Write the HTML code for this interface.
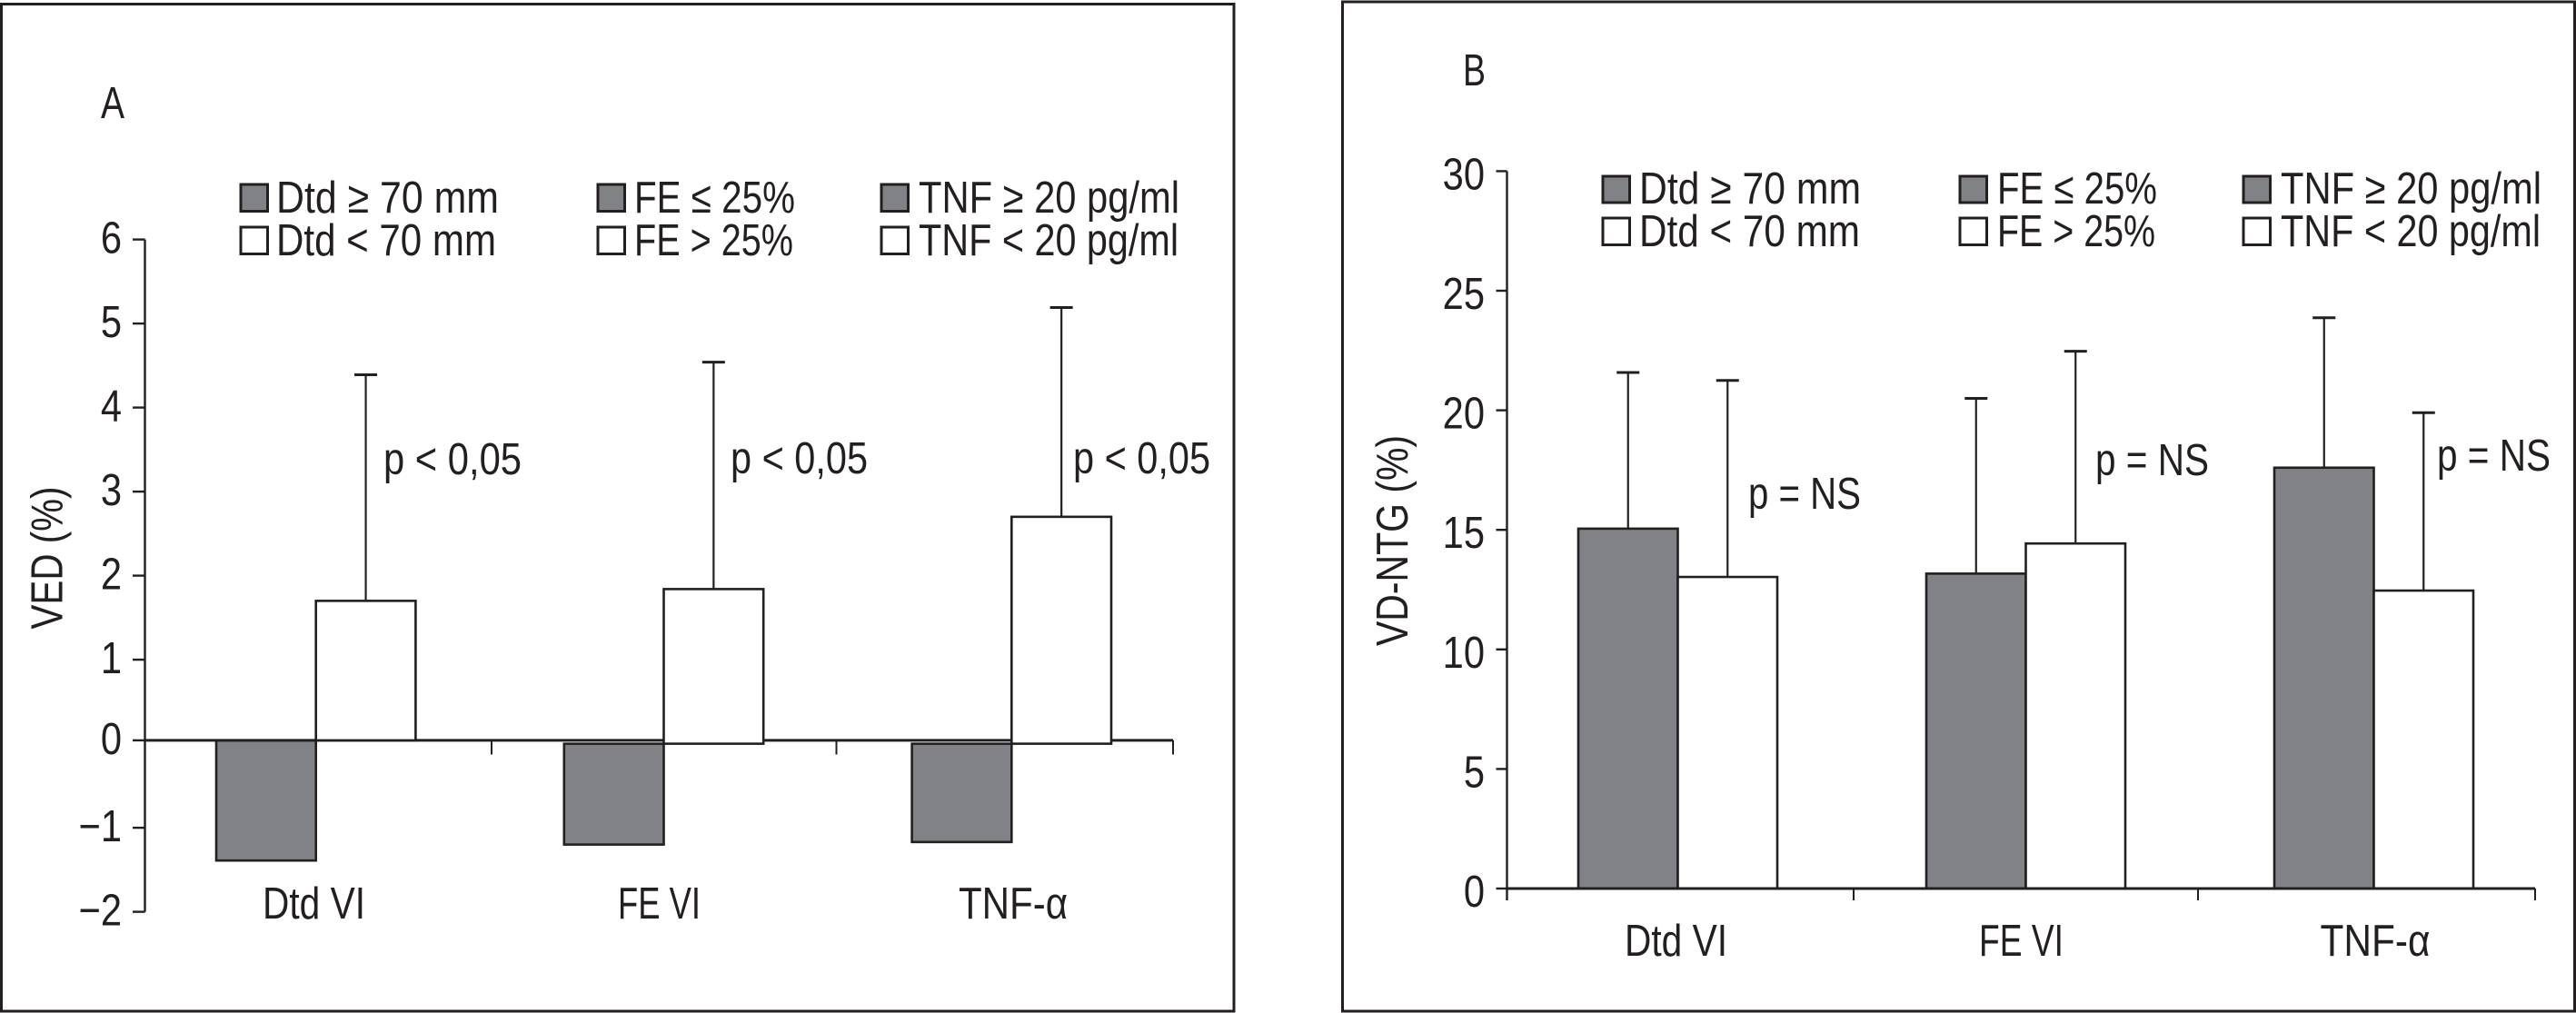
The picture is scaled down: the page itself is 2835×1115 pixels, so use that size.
<!DOCTYPE html>
<html lang="pt">
<head>
<meta charset="utf-8">
<title>VED and VD-NTG bar charts</title>
<style>
html,body{margin:0;padding:0;background:#fff;}
svg{display:block;}
text{font-family:"Liberation Sans",sans-serif;font-size:49px;fill:#231f20;}
.sw-high{fill:#808285;stroke:#231f20;stroke-width:3;}
.sw-low{fill:#fff;stroke:#231f20;stroke-width:3;}
</style>
</head>
<body>
<svg id="chart" xmlns="http://www.w3.org/2000/svg" width="2835" height="1115" viewBox="0 0 2835 1115">
  <rect x="0" y="0" width="2835" height="1115" fill="#fff"/>

  <!-- Panel A -->
  <g id="panel-a">
    <rect x="1.5" y="4.5" width="1356.5" height="1108.5" fill="#fff" stroke="#231f20" stroke-width="3"/>
    <text x="111" y="130" textLength="26" lengthAdjust="spacingAndGlyphs">A</text>
    <text transform="translate(68.5,692.5) rotate(-90)" textLength="157" lengthAdjust="spacingAndGlyphs">VED (%)</text>

    <g>
      <rect class="sw-high" x="265" y="203" width="29.5" height="29.5"/>
      <rect class="sw-low" x="265" y="250" width="29.5" height="29.5"/>
      <text x="304" y="234" textLength="245" lengthAdjust="spacingAndGlyphs">Dtd ≥ 70 mm</text>
      <text x="304" y="281" textLength="242" lengthAdjust="spacingAndGlyphs">Dtd &lt; 70 mm</text>
      <rect class="sw-high" x="658" y="203" width="29.5" height="29.5"/>
      <rect class="sw-low" x="658" y="250" width="29.5" height="29.5"/>
      <text x="698" y="234" textLength="177" lengthAdjust="spacingAndGlyphs">FE ≤ 25%</text>
      <text x="698" y="281" textLength="175" lengthAdjust="spacingAndGlyphs">FE &gt; 25%</text>
      <rect class="sw-high" x="970" y="203" width="29.5" height="29.5"/>
      <rect class="sw-low" x="970" y="250" width="29.5" height="29.5"/>
      <text x="1011" y="234" textLength="287" lengthAdjust="spacingAndGlyphs">TNF ≥ 20 pg/ml</text>
      <text x="1011" y="281" textLength="286" lengthAdjust="spacingAndGlyphs">TNF &lt; 20 pg/ml</text>
    </g>
    <g id="marks-a"></g>
    <text x="422" y="522" textLength="152" lengthAdjust="spacingAndGlyphs">p &lt; 0,05</text>
    <text x="804" y="521" textLength="151" lengthAdjust="spacingAndGlyphs">p &lt; 0,05</text>
    <text x="1181" y="521" textLength="151" lengthAdjust="spacingAndGlyphs">p &lt; 0,05</text>
  </g>

  <!-- Panel B -->
  <g id="panel-b">
    <rect x="1477.5" y="2" width="1356" height="1111" fill="#fff" stroke="#231f20" stroke-width="3"/>
    <text x="1610" y="94" textLength="25" lengthAdjust="spacingAndGlyphs">B</text>
    <text transform="translate(1549,711) rotate(-90)" textLength="232" lengthAdjust="spacingAndGlyphs">VD-NTG (%)</text>

    <g>
      <rect class="sw-high" x="1764" y="194" width="29.5" height="29"/>
      <rect class="sw-low" x="1764" y="240" width="29.5" height="29.5"/>
      <text x="1804" y="224" textLength="244" lengthAdjust="spacingAndGlyphs">Dtd ≥ 70 mm</text>
      <text x="1804" y="271" textLength="243" lengthAdjust="spacingAndGlyphs">Dtd &lt; 70 mm</text>
      <rect class="sw-high" x="2157" y="194" width="29.5" height="29"/>
      <rect class="sw-low" x="2157" y="240" width="29.5" height="29.5"/>
      <text x="2198" y="224" textLength="176" lengthAdjust="spacingAndGlyphs">FE ≤ 25%</text>
      <text x="2198" y="271" textLength="174" lengthAdjust="spacingAndGlyphs">FE &gt; 25%</text>
      <rect class="sw-high" x="2469" y="194" width="29.5" height="29"/>
      <rect class="sw-low" x="2469" y="240" width="29.5" height="29.5"/>
      <text x="2510" y="224" textLength="287" lengthAdjust="spacingAndGlyphs">TNF ≥ 20 pg/ml</text>
      <text x="2510" y="271" textLength="286" lengthAdjust="spacingAndGlyphs">TNF &lt; 20 pg/ml</text>
    </g>
    <g id="marks-b"></g>
    <text x="1924" y="560" textLength="124" lengthAdjust="spacingAndGlyphs">p = NS</text>
    <text x="2306" y="523" textLength="125" lengthAdjust="spacingAndGlyphs">p = NS</text>
    <text x="2682" y="518" textLength="125" lengthAdjust="spacingAndGlyphs">p = NS</text>
  </g>
</svg>

<script>
// Panel A data (VED %)
const categoriesA = ["Dtd VI", "FE VI", "TNF-α"];
const highGroupA = [-1.39, -1.20, -1.17];
const lowGroupA = [1.70, 1.84, 2.70];
const lowErrorA = [4.39, 4.54, 5.19];
const barBaseA = [0.04, 0, 0];
const tickValuesA = [-2, -1, 0, 1, 2, 3, 4, 5, 6];
const tickLabelsA = ["−2", "−1", "0", "1", "2", "3", "4", "5", "6"];

// Panel B data (VD-NTG %)
const categoriesB = ["Dtd VI", "FE VI", "TNF-α"];
const highGroupB = [15.05, 13.17, 17.6];
const lowGroupB = [13.03, 14.43, 12.46];
const highErrorB = [21.58, 20.5, 23.87];
const lowErrorB = [21.25, 22.47, 19.9];
const tickValuesB = [0, 5, 10, 15, 20, 25, 30];
const tickLabelsB = ["0", "5", "10", "15", "20", "25", "30"];

const INK = "#231f20";
const GREY = "#808285";
const NS = "http://www.w3.org/2000/svg";
const ZERO_LINE_A = 0.04;

function yA(v) { return 818.6 - 92.5 * v; }
function yB(v) { return 978 - 26.32 * v; }
function tickYA(v) { return v === 0 ? yA(ZERO_LINE_A) : yA(v); }
function groupXA(i) { return 238 + 382.8 * i; }
function groupXB(i) { return 1737 + 383 * i; }

function make(parent, tag, props) {
  const el = document.createElementNS(NS, tag);
  for (const k in props) el.setAttribute(k, props[k]);
  parent.appendChild(el);
  return el;
}
function slug(s) { return s.toLowerCase().replace(/[^a-z]+/g, "-").replace(/-$/, ""); }

function drawBar(g, x, w, y0, y1, fill, name) {
  const top = Math.min(y0, y1), h = Math.abs(y1 - y0);
  const el = make(g, "rect", { x: x, y: top, width: w, height: h, fill: fill, stroke: INK, "stroke-width": 2.6 });
  
  
  return el;
}
function drawError(g, cx, yFrom, yTo, name) {
  const line = make(g, "line", { x1: cx, x2: cx, y1: yFrom, y2: yTo, stroke: INK, "stroke-width": 2.2 });
  
  
  const cap = make(g, "line", { x1: cx - 12.5, x2: cx + 12.5, y1: yTo, y2: yTo, stroke: INK, "stroke-width": 3 });
  
  
}
function drawYAxis(g, axisX, tickLen, yTop, yBottom, values, labels, scale, labelX, labelDy, prefix) {
  const axis = make(g, "line", { x1: axisX, x2: axisX, y1: yTop, y2: yBottom, stroke: INK, "stroke-width": 2.4 });
  
  
  values.forEach(function (v, i) {
    const y = scale(v);
    const t = make(g, "line", { x1: axisX - tickLen, x2: axisX, y1: y, y2: y, stroke: INK, "stroke-width": 2.4 });
    
    
    const txt = make(g, "text", { transform: "translate(" + labelX + "," + (y + labelDy) + ") scale(.85,1)", "text-anchor": "end" });
    txt.textContent = labels[i];
    
    
  });
}
function drawXAxis(g, x0, x1, y, tickXs, tickEnd, prefix) {
  const axis = make(g, "line", { x1: x0, x2: x1, y1: y, y2: y, stroke: INK, "stroke-width": 3 });
  
  
  tickXs.forEach(function (tx, i) {
    const t = make(g, "line", { x1: tx, x2: tx, y1: y, y2: tickEnd, stroke: INK, "stroke-width": 2 });
    
    
  });
}
function drawCategoryLabel(g, label, x, width, y, prefix) {
  const txt = make(g, "text", { x: x, y: y, textLength: width, lengthAdjust: "spacingAndGlyphs" });
  txt.textContent = label;
  
  
}

// ----- Panel A -----
const gA = document.getElementById("marks-a");
const BAR_A = 109.7;
const catBoxA = [[289, 113], [680, 91], [1055, 120]];
categoriesA.forEach(function (c, i) {
  const x = groupXA(i), base = yA(barBaseA[i]);
  drawBar(gA, x, BAR_A, base, yA(highGroupA[i]), GREY, 'bar-a-high-' + slug(c));
  drawError(gA, x + BAR_A * 1.5, yA(lowGroupA[i]), yA(lowErrorA[i]), 'error-a-low-' + slug(c));
});
drawYAxis(gA, 159.5, 13.5, yA(6), yA(-2), tickValuesA, tickLabelsA, tickYA, 134, 15, 'a');
drawXAxis(gA, 159.5, 1291, yA(ZERO_LINE_A), [541, 920.5, 1291], 830.5, 'a');
categoriesA.forEach(function (c, i) {
  const x = groupXA(i), base = yA(barBaseA[i]);
  drawBar(gA, x + BAR_A, BAR_A, base, yA(lowGroupA[i]), "#fff", 'bar-a-low-' + slug(c));
  drawCategoryLabel(gA, c, catBoxA[i][0], catBoxA[i][1], 1011, 'a');
});

// ----- Panel B -----
const gB = document.getElementById("marks-b");
const BAR_B = 109.5;
const catBoxB = [[1788, 113], [2178, 93], [2553.5, 121]];
categoriesB.forEach(function (c, i) {
  const x = groupXB(i);
  drawError(gB, x + BAR_B * 0.5, yB(highGroupB[i]), yB(highErrorB[i]), 'error-b-high-' + slug(c));
  drawError(gB, x + BAR_B * 1.5, yB(lowGroupB[i]), yB(lowErrorB[i]), 'error-b-low-' + slug(c));
  drawBar(gB, x, BAR_B, yB(0), yB(highGroupB[i]), GREY, 'bar-b-high-' + slug(c));
  drawBar(gB, x + BAR_B, BAR_B, yB(0), yB(lowGroupB[i]), "#fff", 'bar-b-low-' + slug(c));
  drawCategoryLabel(gB, c, catBoxB[i][0], catBoxB[i][1], 1052, 'b');
});
drawYAxis(gB, 1658.5, 12, yB(30), 991, tickValuesB, tickLabelsB, yB, 1634, 20, 'b');
drawXAxis(gB, 1658.5, 2790, yB(0), [2040, 2419, 2790], 991, 'b');
</script>
</body>
</html>
